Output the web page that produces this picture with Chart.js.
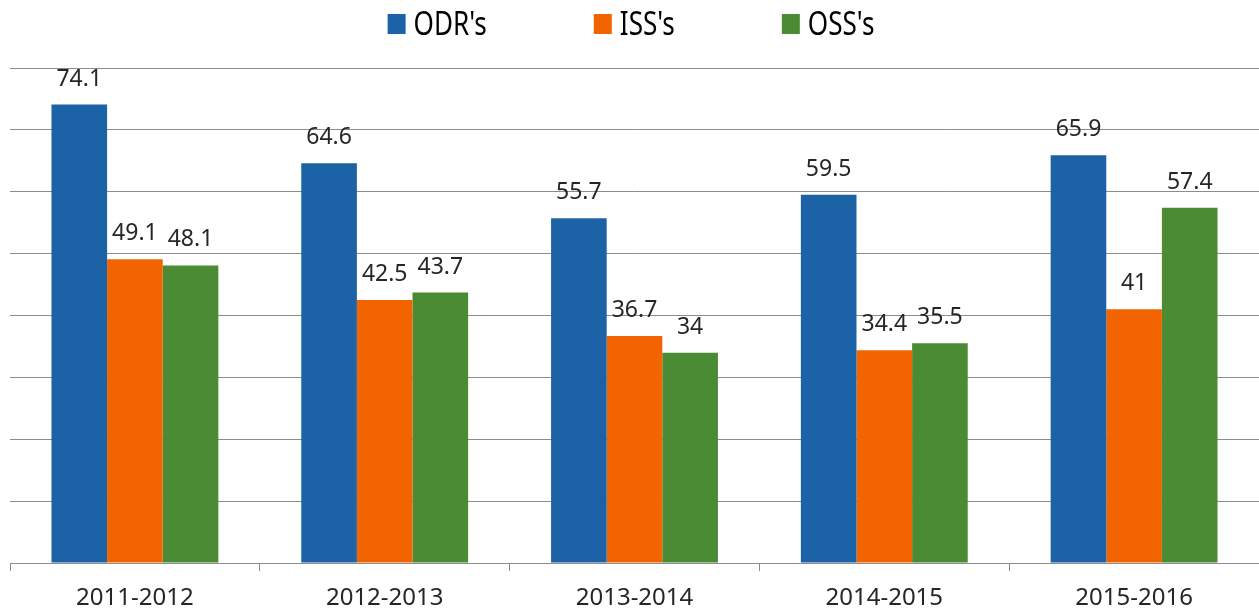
<!DOCTYPE html>
<html>
<head>
<meta charset="utf-8">
<script src="https://cdn.jsdelivr.net/npm/chart.js@4.4.1/dist/chart.umd.min.js"></script>
<style>
  html, body { margin: 0; padding: 0; background: #fff; }
  #wrap { width: 1259px; height: 611px; }
</style>
</head>
<body>
<div id="wrap"><canvas id="BarChart"></canvas></div>
<script>
// school years on the x axis
const years = ['2011-2012', '2012-2013', '2013-2014', '2014-2015', '2015-2016'];

// values
const odrValues = [74.1, 64.6, 55.7, 59.5, 65.9];
const issValues = [49.1, 42.5, 36.7, 34.4, 41];
const ossValues = [48.1, 43.7, 34, 35.5, 57.4];

const seriesNames = ["ODR's", "ISS's", "OSS's"];

const gridGray = '#8c8c8c';

// writes the value above each bar
const valueLabels = {
  id: 'valueLabels',
  afterDatasetsDraw(chart) {
    const ctx = chart.ctx;
    ctx.save();
    ctx.font = '23px "Noto Sans", sans-serif';
    ctx.fillStyle = '#262626';
    ctx.textAlign = 'center';
    ctx.textBaseline = 'alphabetic';
    chart.data.datasets.forEach((ds, i) => {
      chart.getDatasetMeta(i).data.forEach((bar, j) => {
        ctx.fillText(String(ds.data[j]), bar.x, bar.y - 19);
      });
    });
    ctx.restore();
  }
};

// legend drawn by hand: the original uses a narrow font and wide gaps
const topLegend = {
  id: 'topLegend',
  afterDraw(chart) {
    const ctx = chart.ctx;
    const sx = 0.79;      // horizontal squeeze of the text
    const gap = 8;        // box to text
    const spacing = 107;  // text to next box
    ctx.save();
    ctx.font = '33px "Noto Sans", sans-serif';
    ctx.textBaseline = 'alphabetic';
    ctx.textAlign = 'left';
    const items = chart.data.datasets.map(ds => ({
      text: ds.label,
      color: ds.backgroundColor,
      w: ctx.measureText(ds.label).width * sx
    }));
    let total = items.reduce((s, it) => s + 18 + gap + it.w, 0) + spacing * (items.length - 1);
    let x = 631 - total / 2;
    items.forEach(it => {
      ctx.fillStyle = it.color;
      ctx.fillRect(x, 14, 18, 20);
      ctx.save();
      ctx.translate(x + 18 + gap, 35);
      ctx.scale(sx, 1);
      ctx.fillStyle = '#000';
      ctx.fillText(it.text, 0, 0);
      ctx.restore();
      x += 18 + gap + it.w + spacing;
    });
    ctx.restore();
  }
};

const data = {
  labels: years,
  datasets: [
    { label: seriesNames[0], data: odrValues, backgroundColor: '#1b63a6' },
    { label: seriesNames[1], data: issValues, backgroundColor: '#f26400' },
    { label: seriesNames[2], data: ossValues, backgroundColor: '#4a8b33' }
  ]
};

const config = {
  type: 'bar',
  data: data,
  options: {
    responsive: true,
    maintainAspectRatio: false,
    animation: false,
    datasets: {
      bar: { categoryPercentage: 0.668, barPercentage: 1.0 }
    },
    layout: { padding: { left: 10, right: 0, top: 68, bottom: 0 } },
    plugins: {
      tooltip: { enabled: false },
      legend: { display: false }
    },
    scales: {
      y: {
        min: 0,
        max: 80,
        ticks: { display: false, stepSize: 10 },
        grid: { color: gridGray, drawTicks: false, lineWidth: 1 },
        border: { display: false }
      },
      x: {
        afterFit(scale) { scale.height = 48; },
        grid: { offset: true, drawOnChartArea: false, drawTicks: true, tickLength: 8, color: gridGray },
        border: { display: true, color: gridGray },
        ticks: {
          padding: 13,
          color: '#262626',
          font: { family: '"Noto Sans", sans-serif', size: 24 }
        }
      }
    }
  },
  plugins: [valueLabels, topLegend]
};

const barCtx = document.getElementById('BarChart').getContext('2d');
new Chart(barCtx, config);
</script>
</body>
</html>
